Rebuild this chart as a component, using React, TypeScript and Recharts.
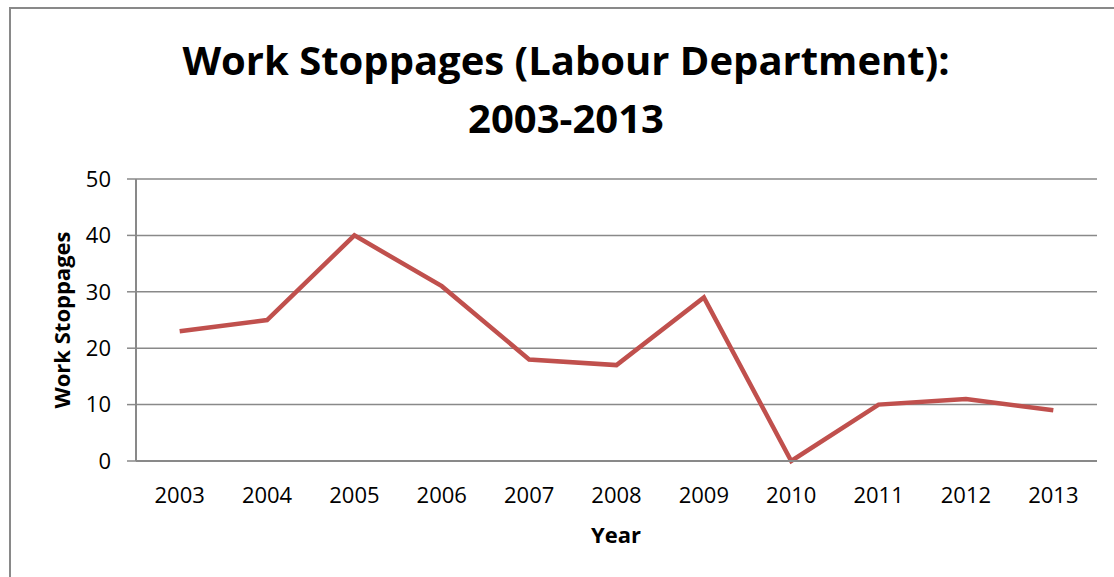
import { LineChart, Line, XAxis, YAxis, CartesianGrid } from 'recharts';

const years = ['2003', '2004', '2005', '2006', '2007', '2008', '2009', '2010', '2011', '2012', '2013'];
const stoppages = [23, 25, 40, 31, 18, 17, 29, 0, 10, 11, 9];
const yTicks = [0, 10, 20, 30, 40, 50];

const FONT = '"Open Sans", sans-serif';
const AXIS = '#898989';

export default function App() {
    const data = years.map((y, i) => ({ year: y, value: stoppages[i] }));

    return (
        <div style={{ position: 'absolute', left: 0, top: 0, width: 1114, height: 577, background: '#fff', fontFamily: FONT }}>
            {/* chart frame, only left and top edges show in the crop */}
            <div style={{ position: 'absolute', left: 9, top: 7, width: 1120, height: 600, borderLeft: `2px solid ${AXIS}`, borderTop: `2px solid ${AXIS}` }} />
            <LineChart
                width={1114}
                height={577}
                data={data}
                margin={{ top: 179, right: 17, bottom: 86, left: 0 }}
                style={{ position: 'absolute', left: 0, top: 0 }}
            >
                <text x={566} y={75} textAnchor="middle" fontFamily={FONT} fontWeight={700} fontSize={40} fill="#000">
                    Work Stoppages (Labour Department):
                </text>
                <text x={566} y={133} textAnchor="middle" fontFamily={FONT} fontWeight={700} fontSize={40} fill="#000">
                    2003-2013
                </text>
                <text x={70} y={320} transform="rotate(-90 70 320)" textAnchor="middle" fontFamily={FONT} fontWeight={700} fontSize={22} fill="#000">
                    Work Stoppages
                </text>
                <text x={616} y={543} textAnchor="middle" fontFamily={FONT} fontWeight={700} fontSize={22} fill="#000">
                    Year
                </text>
                <CartesianGrid vertical={false} stroke={AXIS} strokeWidth={1.5} />
                <XAxis
                    dataKey="year"
                    scale="band"
                    axisLine={{ stroke: AXIS, strokeWidth: 2 }}
                    tickLine={false}
                    tickSize={0}
                    tickMargin={26}
                    tick={{ fontSize: 22, fill: '#000', fontFamily: FONT }}
                    interval={0}
                />
                <YAxis
                    width={136}
                    domain={[0, 50]}
                    ticks={yTicks}
                    axisLine={{ stroke: AXIS, strokeWidth: 2 }}
                    tickLine={{ stroke: AXIS, strokeWidth: 1.5 }}
                    tickSize={9}
                    tickMargin={16}
                    tick={{ fontSize: 22, fill: '#000', fontFamily: FONT }}
                />
                <Line
                    type="linear"
                    dataKey="value"
                    stroke="#C0504D"
                    strokeWidth={4.5}
                    dot={false}
                    isAnimationActive={false}
                />
            </LineChart>
        </div>
    );
}
